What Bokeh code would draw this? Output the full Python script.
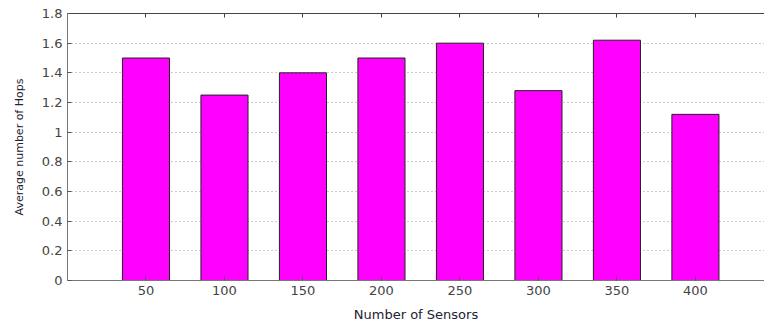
from bokeh.plotting import figure
from bokeh.models import Range1d, FixedTicker, LinearAxis, ColumnDataSource
from bokeh.embed import file_html
from bokeh.resources import INLINE

# Data
sensors = [50, 100, 150, 200, 250, 300, 350, 400]
avg_hops = [1.50, 1.25, 1.40, 1.50, 1.60, 1.28, 1.62, 1.12]
y_ticks = [0, 0.2, 0.4, 0.6, 0.8, 1.0, 1.2, 1.4, 1.6, 1.8]
y_tick_labels = ["0", "0.2", "0.4", "0.6", "0.8", "1", "1.2", "1.4", "1.6", "1.8"]
x_label = "Number of Sensors"
y_label = "Average number of Hops"

FONT = "DejaVu Sans"
TICK_COLOR = "#444444"

src = ColumnDataSource(dict(x=sensors, top=avg_hops))

p = figure(width=764, height=325, output_backend="svg", toolbar_location=None,
           x_range=Range1d(0, 444), y_range=Range1d(0, 1.8),
           min_border_left=67, min_border_right=0, min_border_top=13,
           min_border_bottom=45)
p.outline_line_color = None
p.background_fill_color = "white"
p.border_fill_color = "white"

p.vbar(x="x", top="top", bottom=0, width=30, source=src,
       fill_color="#ff00ff", line_color="#222222", line_width=1)

# Axes
xa = p.xaxis[0]
xa.ticker = FixedTicker(ticks=sensors)
xa.axis_label = x_label
xa.axis_label_text_font = FONT
xa.axis_label_text_font_size = "13px"
xa.axis_label_text_font_style = "normal"
xa.axis_label_text_color = "#222233"
xa.axis_label_standoff = 9
xa.major_label_text_font = FONT
xa.major_label_text_font_size = "13px"
xa.major_label_text_color = TICK_COLOR
xa.major_label_standoff = 5
xa.major_tick_in = 4
xa.major_tick_out = 0
xa.minor_tick_line_color = None
xa.axis_line_color = "#777777"
xa.major_tick_line_color = "#555555"

ya = p.yaxis[0]
ya.ticker = FixedTicker(ticks=y_ticks)
ya.major_label_overrides = {t: lab for t, lab in zip(y_ticks, y_tick_labels)}
ya.axis_label = y_label
ya.axis_label_text_font = FONT
ya.axis_label_text_font_size = "11px"
ya.axis_label_text_font_style = "normal"
ya.axis_label_text_color = "#222233"
ya.axis_label_standoff = 13
ya.major_label_text_font = FONT
ya.major_label_text_font_size = "13px"
ya.major_label_text_color = TICK_COLOR
ya.major_label_standoff = 5
ya.major_tick_in = 4
ya.major_tick_out = 0
ya.minor_tick_line_color = None
ya.axis_line_color = "#777777"
ya.major_tick_line_color = "#555555"

top_axis = LinearAxis(ticker=FixedTicker(ticks=sensors))
top_axis.major_label_overrides = {s: "" for s in sensors}
top_axis.major_label_text_font_size = "1px"
top_axis.major_label_standoff = 0
top_axis.major_tick_in = 4
top_axis.major_tick_out = 0
top_axis.minor_tick_line_color = None
top_axis.axis_line_color = "#444444"
top_axis.major_tick_line_color = "#444444"
p.add_layout(top_axis, "above")

p.xgrid.grid_line_color = None
p.ygrid.ticker = FixedTicker(ticks=y_ticks)
p.ygrid.grid_line_color = "#999999"
p.ygrid.grid_line_dash = "1 3"
p.ygrid.grid_line_width = 1

open("out.html", "w").write(file_html(p, INLINE))
